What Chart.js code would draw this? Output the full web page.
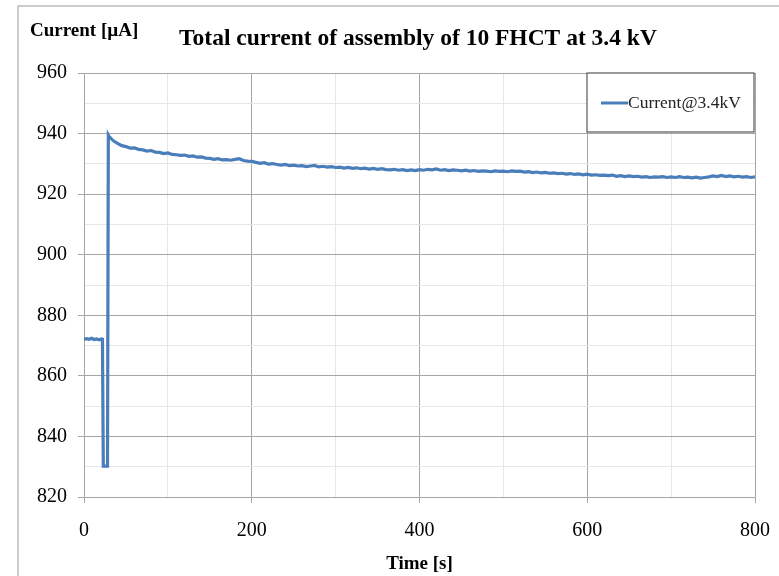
<!DOCTYPE html>
<html>
<head>
<meta charset="utf-8">
<script src="https://cdn.jsdelivr.net/npm/chart.js@4"></script>
<style>
    html, body { margin: 0; padding: 0; background: #fff; }
    #wrap { width: 779px; height: 576px; position: relative; }
</style>
</head>
<body>
<div id="wrap"><canvas id="chart" width="779" height="576"></canvas></div>
<script>
// time [s]: switch-on phase, then every 5 s
const startTimes = [0, 3, 6, 9, 12, 15, 18, 21, 22, 23, 28, 29];
const startCurrent = [872.0, 872.3, 872.1, 872.4, 872.0, 872.2, 871.9, 872.2, 872.1, 830.2, 830.2, 939.5];

const runTimes = [];
for (let t = 30; t <= 800; t += 5) runTimes.push(t);

// current [uA], 30 s .. 800 s
const runCurrent = [
    939.0, 937.6, 936.8, 936.0, 935.7, 935.2, 935.3, 934.8, 934.6, 934.2,
    934.4, 933.9, 933.8, 933.4, 933.6, 933.1, 933.0, 932.8, 932.9, 932.5,
    932.6, 932.2, 932.3, 931.9, 931.8, 931.5, 931.7, 931.3, 931.4, 931.2,
    931.5, 931.7, 931.1, 930.9, 930.8, 930.5, 930.2, 930.4, 929.9, 930.1,
    929.8, 929.6, 929.8, 929.4, 929.6, 929.3, 929.4, 929.1, 929.3, 929.5,
    929.0, 929.2, 928.9, 929.1, 928.8, 928.9, 928.6, 928.8, 928.5, 928.7,
    928.4, 928.6, 928.3, 928.5, 928.2, 928.4, 928.1, 928.0, 928.2, 927.9,
    928.1, 927.8, 928.0, 927.8, 928.1, 927.9, 928.2, 928.0, 928.3, 927.9,
    928.1, 927.8, 928.0, 927.9, 927.7, 927.9, 927.6, 927.8, 927.5, 927.7,
    927.6, 927.4, 927.7, 927.5, 927.6, 927.4, 927.7, 927.5, 927.6, 927.3,
    927.4, 927.1, 927.3, 927.0, 927.2, 926.9, 927.0, 926.8, 926.9, 926.6,
    926.8, 926.5, 926.7, 926.4, 926.6, 926.3, 926.4, 926.2, 926.3, 926.1,
    926.3, 925.9, 926.1, 925.8, 926.0, 925.8, 925.9, 925.6, 925.8, 925.5,
    925.7, 925.6, 925.8, 925.5, 925.7, 925.5, 925.8, 925.5, 925.6, 925.4,
    925.6, 925.3, 925.5, 925.7, 926.0, 925.8, 926.2, 925.8, 926.0, 925.7,
    925.9, 925.6, 925.8, 925.5, 925.7
];

const times = startTimes.concat(runTimes);
const current = startCurrent.concat(runCurrent);

const seriesLabel = 'Current@3.4kV';
const chartTitle = 'Total current of assembly of 10 FHCT at 3.4 kV';
const yLabel = 'Current [\u00b5A]';
const xLabel = 'Time [s]';

const lineColor = '#4a7ebb';
const majorGrid = '#a6a6a6';
const minorGrid = '#e6e6e6';

// frame, titles and the boxed legend
const decorations = {
    id: 'decorations',
    beforeDraw(chart) {
        const ctx = chart.ctx;
        ctx.save();
        ctx.fillStyle = '#fff';
        ctx.fillRect(0, 0, chart.width, chart.height);
        ctx.strokeStyle = '#bdbdbd';
        ctx.lineWidth = 1.5;
        ctx.beginPath();
        ctx.moveTo(18, chart.height);
        ctx.lineTo(18, 6);
        ctx.lineTo(chart.width, 6);
        ctx.stroke();
        ctx.restore();
    },
    afterDraw(chart) {
        const ctx = chart.ctx;
        const area = chart.chartArea;
        ctx.save();
        ctx.fillStyle = '#000';
        ctx.textBaseline = 'alphabetic';
        ctx.font = 'bold 19px "Liberation Serif"';
        ctx.textAlign = 'left';
        ctx.fillText(yLabel, 30, 36);
        ctx.font = 'bold 23.5px "Liberation Serif"';
        ctx.textAlign = 'center';
        ctx.fillText(chartTitle, 418, 45);

        // legend box
        const bx = 587, by = area.top, bw = area.right - 1 - bx, bh = 59;
        ctx.fillStyle = '#fff';
        ctx.fillRect(bx, by, bw, bh);
        ctx.strokeStyle = '#595959';
        ctx.lineWidth = 1.2;
        ctx.strokeRect(bx, by, bw, bh);
        const ds = chart.data.datasets[0];
        ctx.strokeStyle = ds.borderColor;
        ctx.lineWidth = 3;
        ctx.beginPath();
        ctx.moveTo(601, by + 30);
        ctx.lineTo(628, by + 30);
        ctx.stroke();
        ctx.fillStyle = '#222';
        ctx.font = '17.5px "Liberation Serif"';
        ctx.textAlign = 'left';
        ctx.textBaseline = 'middle';
        ctx.fillText(ds.label, 628, by + 30);
        ctx.restore();
    }
};

const isMajor = (v, step) => Math.abs(v % step) < 1e-6;

new Chart(document.getElementById('chart'), {
    type: 'line',
    data: {
        datasets: [{
            label: seriesLabel,
            data: times.map((t, i) => ({ x: t, y: current[i] })),
            borderColor: lineColor,
            borderWidth: 3.2,
            pointRadius: 0,
            tension: 0,
            fill: false
        }]
    },
    options: {
        responsive: false,
        animation: false,
        layout: { padding: { left: 0, right: 24, top: 73, bottom: 0 } },
        plugins: {
            legend: { display: false },
            title: { display: false },
            tooltip: { enabled: false }
        },
        scales: {
            x: {
                type: 'linear',
                min: 0,
                max: 800,
                afterFit: (s) => { s.height = 79; s.paddingLeft = 0; s.paddingRight = 0; },
                ticks: {
                    stepSize: 100,
                    autoSkip: false,
                    maxRotation: 0,
                    padding: 16,
                    color: '#000',
                    font: { family: 'Liberation Serif', size: 20 },
                    callback: (v) => isMajor(v, 200) ? v : ''
                },
                grid: {
                    color: (c) => isMajor(c.tick.value, 200) ? majorGrid : minorGrid,
                    tickColor: (c) => isMajor(c.tick.value, 200) ? majorGrid : 'rgba(0,0,0,0)',
                    tickLength: 6,
                    lineWidth: 1
                },
                border: { color: majorGrid },
                title: {
                    display: true,
                    text: xLabel,
                    color: '#000',
                    font: { family: 'Liberation Serif', size: 19, weight: 'bold' },
                    padding: { top: 0, bottom: 1 }
                }
            },
            y: {
                min: 820,
                max: 960,
                afterFit: (s) => { s.width = 84; s.paddingTop = 0; s.paddingBottom = 0; },
                ticks: {
                    stepSize: 10,
                    autoSkip: false,
                    padding: 11,
                    color: '#000',
                    font: { family: 'Liberation Serif', size: 20 },
                    callback: (v) => isMajor(v, 20) ? v : ''
                },
                grid: {
                    color: (c) => isMajor(c.tick.value, 20) ? majorGrid : minorGrid,
                    tickColor: (c) => isMajor(c.tick.value, 20) ? majorGrid : 'rgba(0,0,0,0)',
                    tickLength: 6,
                    lineWidth: 1
                },
                border: { color: majorGrid }
            }
        }
    },
    plugins: [decorations]
});
</script>
</body>
</html>
